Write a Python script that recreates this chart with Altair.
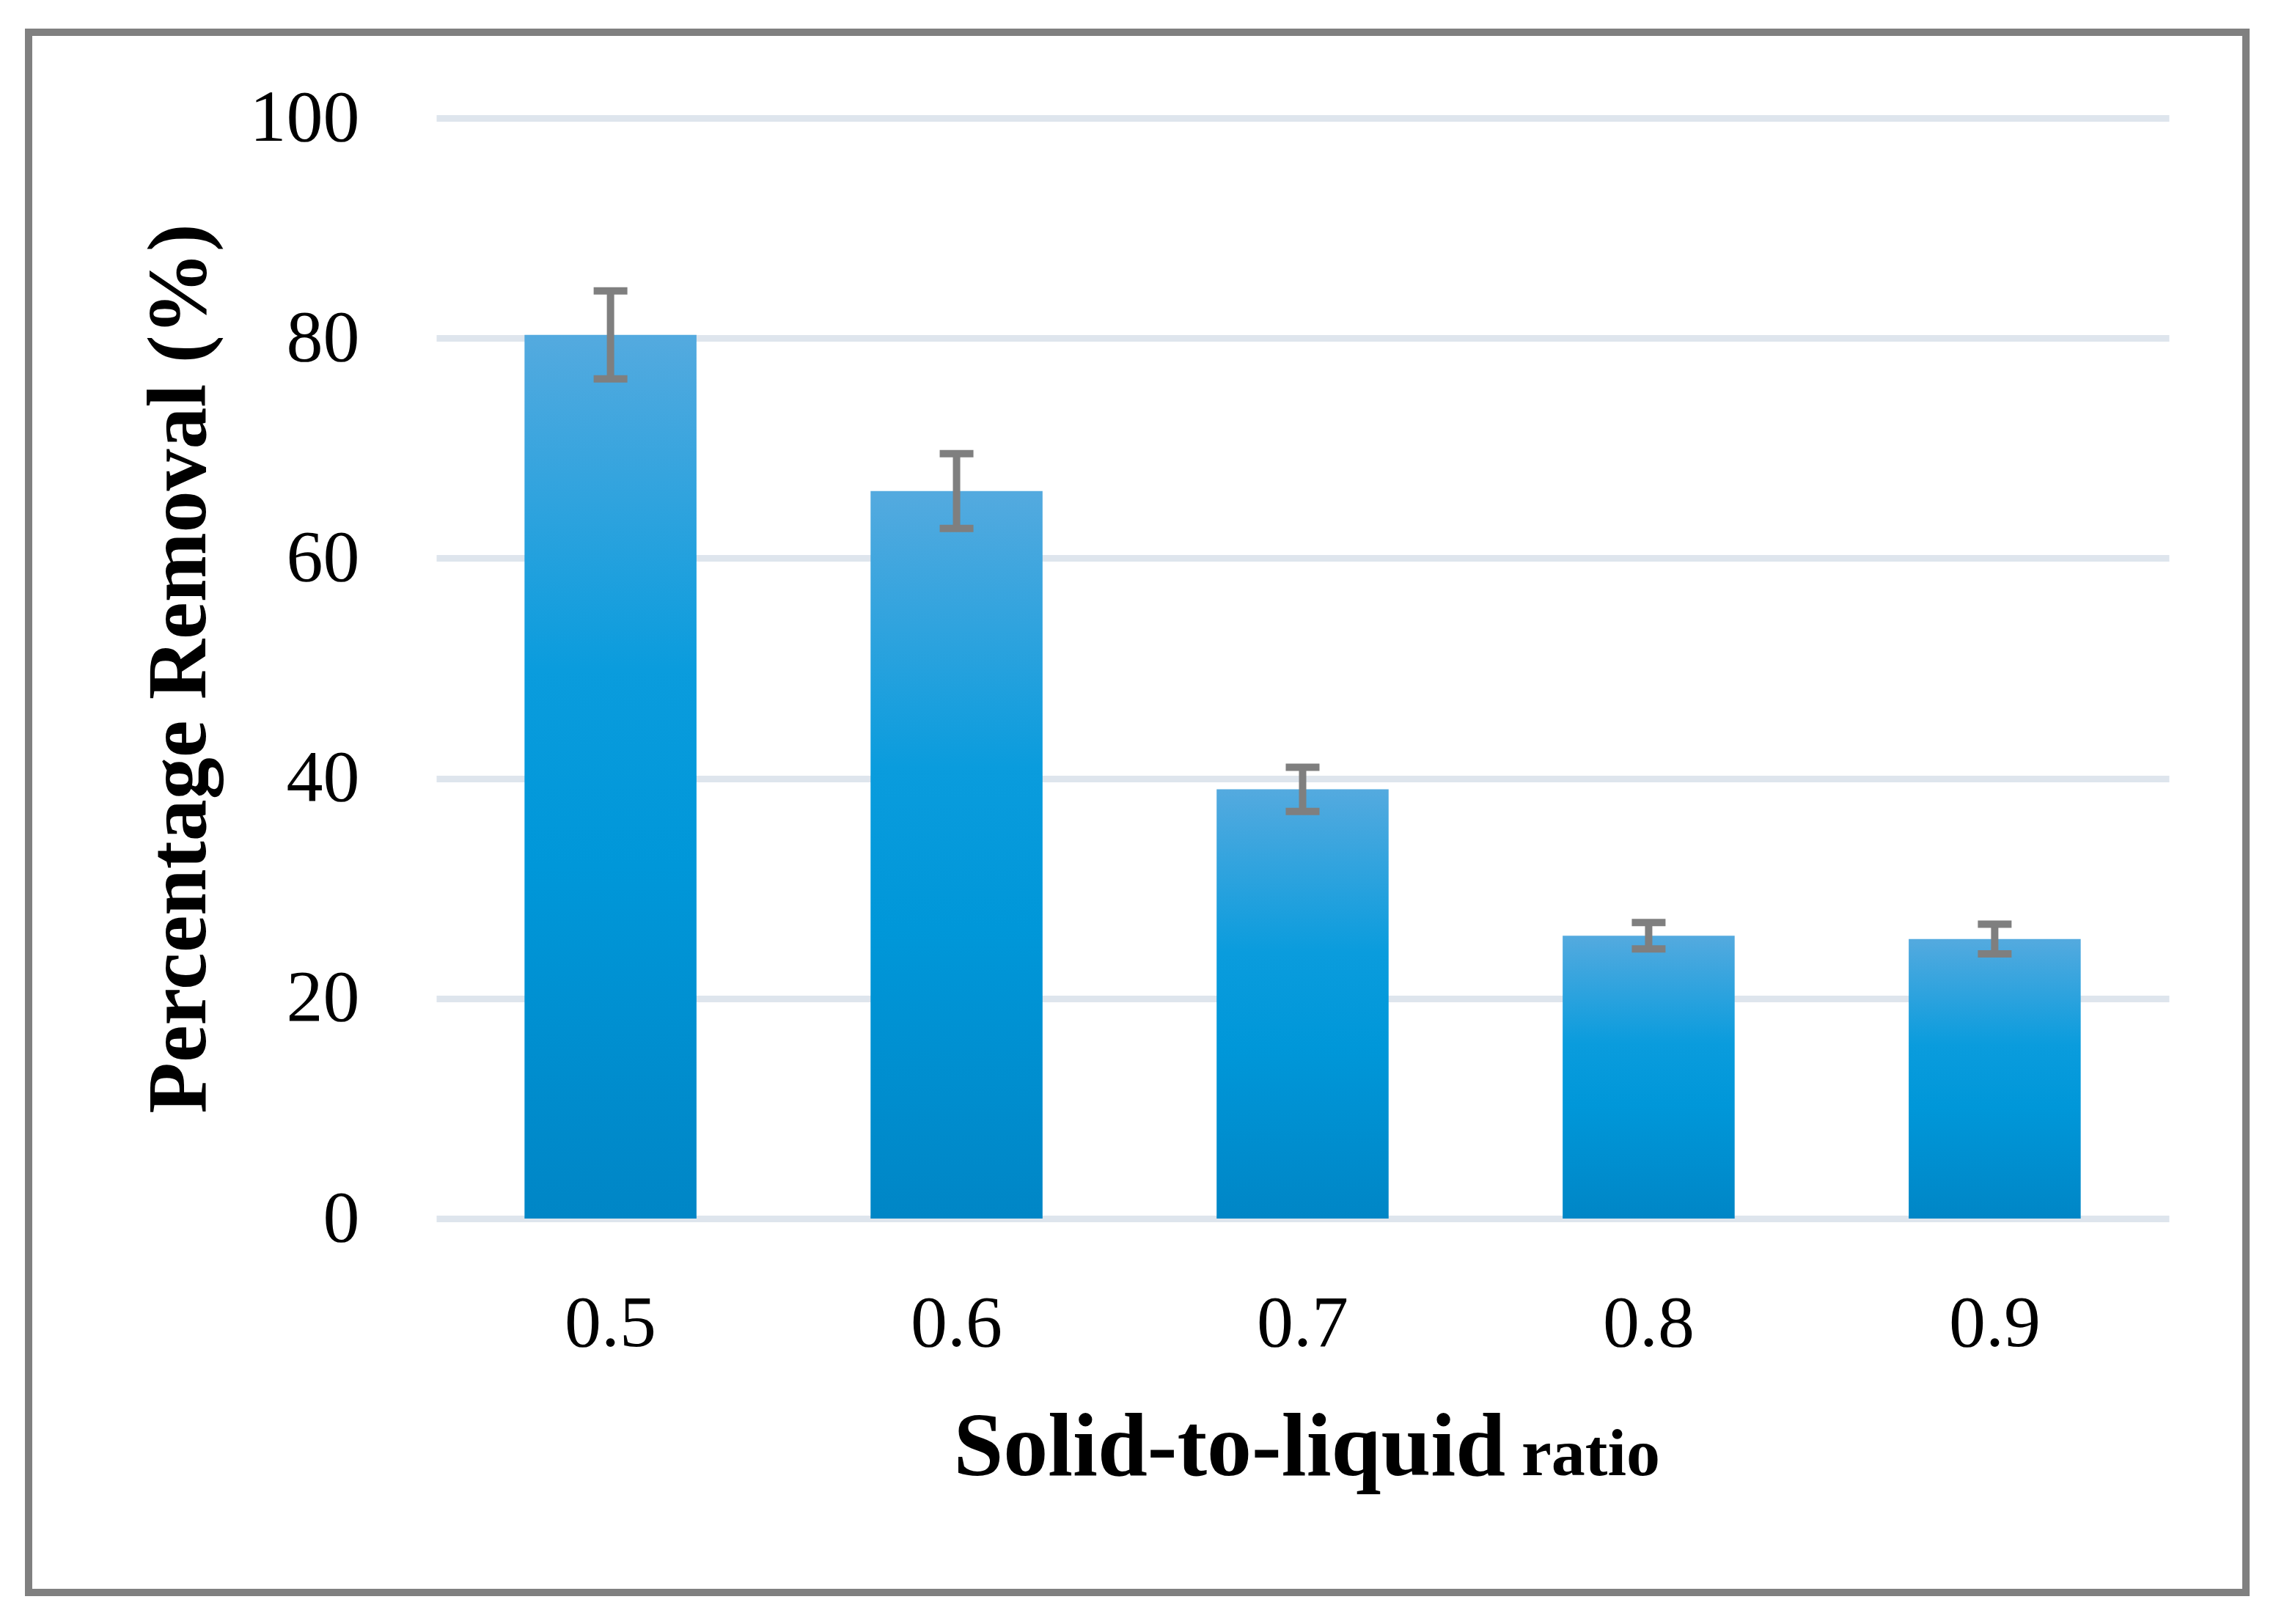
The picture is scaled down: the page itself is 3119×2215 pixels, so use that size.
import altair as alt
import pandas as pd

ratios = ["0.5", "0.6", "0.7", "0.8", "0.9"]
removal = [80.3, 66.1, 39.0, 25.7, 25.4]
err = [4.0, 3.4, 2.0, 1.2, 1.35]
y_ticks = [0, 20, 40, 60, 80, 100]

df = pd.DataFrame({
    "ratio": ratios,
    "removal": removal,
    "low": [v - e for v, e in zip(removal, err)],
    "high": [v + e for v, e in zip(removal, err)],
})

FONT = "Liberation Serif"
W, H = 2363, 1501

gradient = alt.Gradient(
    gradient="linear",
    stops=[
        alt.GradientStop(color="#54AADF", offset=0),
        alt.GradientStop(color="#0A9CDD", offset=0.38),
        alt.GradientStop(color="#0097D9", offset=0.6),
        alt.GradientStop(color="#0086C6", offset=1),
    ],
    x1=0, x2=0, y1=0, y2=1,
)

xscale = alt.Scale(domain=ratios, paddingInner=0.503, paddingOuter=0.255)
yscale = alt.Scale(domain=[0, 100], nice=False)

base = alt.Chart(df)

bars = base.mark_bar(color=gradient).encode(
    x=alt.X("ratio:N", scale=xscale, sort=ratios,
            axis=alt.Axis(title=None, labelAngle=0, labelFont=FONT, labelFontSize=100,
                          labelColor="#000000", labelPadding=94, ticks=False, domain=False,
                          grid=False)),
    y=alt.Y("removal:Q", scale=yscale,
            axis=alt.Axis(values=y_ticks, title="Percentage Removal (%)", titleFont=FONT,
                          titleFontSize=114, titleFontWeight="bold", titleColor="#000000",
                          titlePadding=92, labelFont=FONT, labelFontSize=100,
                          labelColor="#000000", labelPadding=105, ticks=False, domain=False,
                          grid=True, gridColor="#DEE5ED", gridWidth=9)),
)

rules = base.mark_rule(color="#7F7F7F", strokeWidth=10).encode(
    x=alt.X("ratio:N", scale=xscale, sort=ratios),
    y=alt.Y("low:Q", scale=yscale),
    y2="high:Q",
)

cap_low = base.mark_tick(color="#7F7F7F", thickness=10, size=46, opacity=1).encode(
    x=alt.X("ratio:N", scale=xscale, sort=ratios),
    y=alt.Y("low:Q", scale=yscale),
)
cap_high = base.mark_tick(color="#7F7F7F", thickness=10, size=46, opacity=1).encode(
    x=alt.X("ratio:N", scale=xscale, sort=ratios),
    y=alt.Y("high:Q", scale=yscale),
)

title_main = alt.Chart(pd.DataFrame({"t": ["Solid-to-liquid"]})).mark_text(
    font=FONT, fontSize=122, fontWeight="bold", color="#000000", align="right",
    baseline="alphabetic",
).encode(text="t:N", x=alt.value(1458), y=alt.value(1851))

title_small = alt.Chart(pd.DataFrame({"t": ["ratio"]})).mark_text(
    font=FONT, fontSize=92, fontWeight="bold", color="#000000", align="left",
    baseline="alphabetic",
).encode(text="t:N", x=alt.value(1480), y=alt.value(1851))

frame = alt.Chart(pd.DataFrame({"a": [0]})).mark_rect(
    fill=None, stroke="#808080", strokeWidth=10,
).encode(x=alt.value(-556), x2=alt.value(2468), y=alt.value(-117), y2=alt.value(2011))

chart = alt.layer(frame, bars, rules, cap_low, cap_high, title_main, title_small).properties(
    width=W, height=H,
    padding={"left": 587, "top": 153, "right": 130, "bottom": 530},
    autosize=alt.AutoSizeParams(type="none"),
    background="#FFFFFF",
).configure_view(stroke=None)

chart.save("out.html", embed_options={"renderer": "svg", "actions": False})
